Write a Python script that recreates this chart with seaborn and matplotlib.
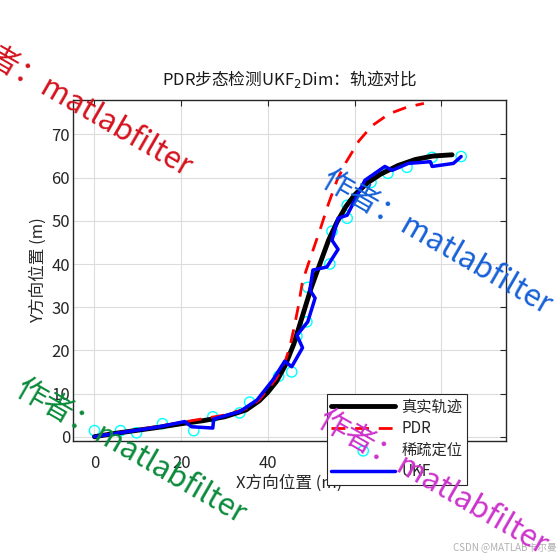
import numpy as np
import pandas as pd
import seaborn as sns
import matplotlib.pyplot as plt

# true trajectory
true_x = [0, 5, 10, 15, 20, 25, 30, 35, 38, 40, 42, 44, 46, 48, 50, 52, 54, 56, 58, 60, 63, 66, 70, 74, 78, 82.5]
true_y = [0, 0.8, 1.5, 2.2, 3.0, 3.7, 4.6, 6.2, 8.3, 10.3, 12.8, 16.5, 21.5, 28, 34.5, 40, 45.5, 49.8, 53.3, 56, 58.8, 60.8, 62.8, 64.2, 65, 65.3]

# PDR dead reckoning
pdr_x = [0, 10, 20, 30, 35, 38, 40, 42, 44, 45, 46, 47, 48, 50, 52, 54, 56, 58, 61, 64, 68, 72, 76]
pdr_y = [0, 1.6, 3.3, 5.0, 6.5, 8.5, 11, 13.5, 17.5, 20.5, 25, 30, 36, 42, 47.8, 54, 59.5, 63.5, 68.5, 72, 74.8, 76.3, 77.2]

# sparse position fixes
fix_x = [0, 6, 9.7, 15.7, 22.9, 27.3, 33.5, 35.8, 42.5, 45.5, 46.7, 49, 49.2, 54.3, 54.8, 58.3, 58.3, 63.8, 67.7, 72.1, 77.9, 84.6]
fix_y = [1.4, 1.4, 0.9, 3.0, 1.4, 4.6, 5.5, 8.0, 14.0, 15.0, 23.3, 26.6, 34.6, 40.0, 47.6, 50.6, 53.6, 58.9, 61.0, 62.4, 64.7, 64.9]

# UKF estimate
ukf_x = [0, 15, 20.8, 22.4, 27.3, 27.5, 33.5, 37.5, 41.2, 43.9, 45.5, 48, 46.7, 49.2, 50.9, 49.7, 50.4, 53.6, 56.2, 54.8, 56.2, 58.3, 62.4, 67, 68.7, 72.4, 77.5, 77.9, 82.8, 84.6]
ukf_y = [0, 2.3, 3.5, 2.3, 2.0, 4.1, 5.8, 8.5, 13.2, 17.5, 16.2, 20.6, 23.5, 26.6, 32.1, 34.0, 38.6, 39.3, 43.4, 45.5, 50.6, 51.3, 59.4, 62.6, 61.7, 63.3, 63.7, 62.6, 63.3, 64.9]

sns.set_style('white')
plt.rcParams['font.family'] = ['Noto Sans CJK SC', 'DejaVu Sans']
plt.rcParams['axes.unicode_minus'] = False

fig = plt.figure(figsize=(5.6, 5.6), dpi=100)
ax = fig.add_axes([0.130, 0.2125, 0.774, 0.609])

sns.lineplot(x=true_x, y=true_y, sort=False, estimator=None, color='black', lw=3.5, ax=ax, label='真实轨迹')
sns.lineplot(x=pdr_x, y=pdr_y, sort=False, estimator=None, color='red', lw=2, ax=ax, label='PDR')
ax.lines[-1].set_dashes([5, 3.5])
sns.scatterplot(x=fix_x, y=fix_y, marker='o', s=55, facecolor='none', edgecolor='cyan', linewidth=1, ax=ax, label='稀疏定位')
sns.lineplot(x=ukf_x, y=ukf_y, sort=False, estimator=None, color='blue', lw=2.5, ax=ax, label='UKF')

ax.set_xlim(-5, 95)
ax.set_ylim(-1, 78)
ax.set_xticks([0, 20, 40, 60, 80])
ax.set_yticks([0, 10, 20, 30, 40, 50, 60, 70])
ax.grid(True, color='#dcdcdc', lw=0.8)
ax.tick_params(direction='in', top=True, right=True, labelsize=12, colors='#262626', length=4)
ax.tick_params(axis='x', pad=10)
ax.tick_params(axis='y', pad=2)
for s in ax.spines.values():
    s.set_color('#262626')
    s.set_linewidth(1)

ax.set_title('PDR步态检测UKF$_2$Dim：轨迹对比', fontsize=12, color='#1a1a1a', pad=11)
ax.set_xlabel('X方向位置 (m)', fontsize=12, color='#262626', labelpad=2)
ax.set_ylabel('Y方向位置 (m)', fontsize=12, color='#262626', labelpad=3)

leg = ax.legend(loc='lower right', bbox_to_anchor=(467 / 560, 1 - 485 / 560), bbox_transform=fig.transFigure,
                fontsize=11, handlelength=4.2, frameon=True, fancybox=False, borderpad=0.3,
                labelspacing=0.3, borderaxespad=0, framealpha=1, handletextpad=0.4)
leg.get_frame().set_edgecolor('#262626')
leg.get_frame().set_linewidth(0.8)
leg.set_zorder(20)

# watermarks
marks = [
    (77 / 560, 1 - 105 / 560, '#d4121e'),
    (437 / 560, 1 - 243 / 560, '#1560d8'),
    (131 / 560, 1 - 452 / 560, '#0a8a3a'),
    (433 / 560, 1 - 483 / 560, '#cc33cc'),
]
for mx, my, mc in marks:
    fig.text(mx, my, '作者：matlabfilter', color=mc, fontsize=22, rotation=-30,
             ha='center', va='center', rotation_mode='anchor', transform=fig.transFigure, zorder=30)

fig.text(0.995, 0.012, 'CSDN @MATLAB卡尔曼', color='#b0b0b0', fontsize=7, ha='right', va='bottom')

fig.savefig('out.png', dpi=100)
